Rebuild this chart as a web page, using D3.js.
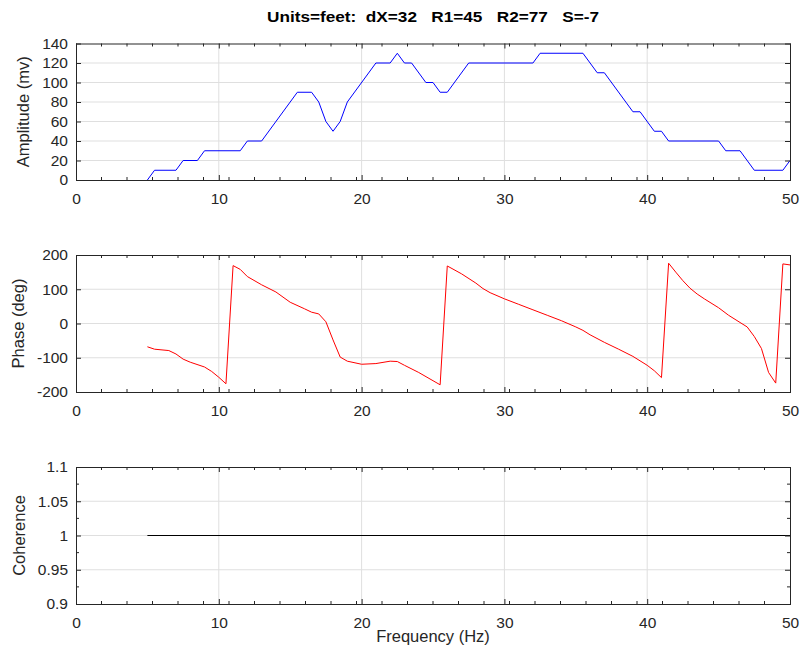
<!DOCTYPE html>
<html>
<head>
<meta charset="utf-8">
<script src="https://cdn.jsdelivr.net/npm/d3@7"></script>
<style>
  html, body { margin: 0; padding: 0; background: #fff; }
  svg { display: block; font-family: "Liberation Sans", Arial, Helvetica, sans-serif; }
</style>
</head>
<body>
<svg id="chart" width="801" height="651"></svg>
<script>
// ---- data ----
const titleText = "Units=feet:  dX=32   R1=45   R2=77   S=-7";
const xTicks = [0, 10, 20, 30, 40, 50];

const ampFreq = [5, 5.5, 7, 7.5, 8.5, 9, 11.5, 12, 13, 15.5, 16.5, 17, 17.5, 18, 18.5, 19, 21, 22, 22.5, 23, 23.5, 24.5, 25, 25.5, 26, 27.5, 32, 32.5, 35.5, 36.5, 37, 39, 39.5, 40.5, 41, 41.5, 45, 45.5, 46.5, 47.5, 49.5, 50];
const ampValues = [0, 10, 10, 20, 20, 30, 30, 40, 40, 90, 90, 80, 60, 50, 60, 80, 120, 120, 130, 120, 120, 100, 100, 90, 90, 120, 120, 130, 130, 110, 110, 70, 70, 50, 50, 40, 40, 30, 30, 10, 10, 20];
const ampTicks = [0, 20, 40, 60, 80, 100, 120, 140];

const phaseFreq = [5, 5.5, 6.5, 7, 7.5, 8, 9, 9.5, 10, 10.5, 11, 11.5, 12, 13, 14, 15, 16, 16.5, 17, 17.5, 18, 18.5, 19, 20, 21, 22, 22.5, 23, 24, 25.5,
  26, 27, 28, 28.5, 29, 30, 31, 32, 33, 34, 35, 35.5, 36, 37, 38, 39, 40, 40.5, 41,
  41.5, 42, 42.5, 43, 43.5, 44, 45, 45.7, 46.5, 47, 47.5, 48, 48.5, 49, 49.5, 50];
const phaseValues = [-68, -75, -79, -89, -104, -113, -127, -140, -157, -176, 169, 158, 137, 113, 92, 62, 43, 33, 28, 5, -48, -98, -110, -119, -117, -110, -111, -122, -143, -179,
  168, 145, 118, 102, 90, 72, 56, 40, 24, 8, -10, -20, -33, -55, -75, -96, -122, -138, -158,
  176, 150, 125, 103, 86, 72, 46, 24, 3, -10, -38, -73, -143, -174, 174, 171];
const phaseTicks = [-200, -100, 0, 100, 200];

const cohFreq = [5, 50];
const cohValues = [1, 1];
const cohTicks = [0.9, 0.95, 1, 1.05, 1.1];
const cohTickLabels = ["0.9", "0.95", "1", "1.05", "1.1"];

// ---- layout ----
const svg = d3.select("#chart");
const axisColor = "#262626";
const gridColor = "#dfdfdf";
const left = 76, right = 790;
const tickFont = 15.5;

const x = d3.scaleLinear().domain([0, 50]).range([left, right]);
const minorX = d3.range(1, 28).map(i => i * 50 / 28);
const plainFmt = d => String(d);

svg.append("text")
  .attr("x", (left + right) / 2).attr("y", 22)
  .attr("text-anchor", "middle")
  .attr("font-weight", "bold").attr("font-size", 15.5)
  .attr("fill", "#000")
  .attr("textLength", 332).attr("lengthAdjust", "spacingAndGlyphs")
  .style("white-space", "pre")
  .text(titleText);

function panel(opts) {
  const { top, bottom, domain, ticks, tickLabels, fx, fy, color, ylabel, ylabelX, minorY } = opts;
  const y = d3.scaleLinear().domain(domain).range([bottom, top]);
  const g = svg.append("g");

  // grid
  g.append("g").selectAll("line").data(xTicks.slice(1, -1)).join("line")
    .attr("x1", d => x(d)).attr("x2", d => x(d))
    .attr("y1", top).attr("y2", bottom)
    .attr("stroke", gridColor).attr("stroke-width", 1);
  g.append("g").selectAll("line").data(ticks.slice(1, -1)).join("line")
    .attr("x1", left).attr("x2", right)
    .attr("y1", d => y(d)).attr("y2", d => y(d))
    .attr("stroke", gridColor).attr("stroke-width", 1);

  // data line
  const pts = fx.map((f, i) => [f, fy[i]]);
  g.append("path")
    .datum(pts)
    .attr("fill", "none")
    .attr("stroke", color)
    .attr("stroke-width", 1)
    .attr("d", d3.line().x(d => x(d[0])).y(d => y(d[1])));

  // axes
  const fmt = tickLabels ? (d, i) => tickLabels[i] : plainFmt;
  const ax = g.append("g").attr("transform", `translate(0,${bottom})`)
    .call(d3.axisBottom(x).tickValues(xTicks).tickSizeInner(-5).tickSizeOuter(0).tickPadding(13).tickFormat(plainFmt));
  const axTop = g.append("g").attr("transform", `translate(0,${top})`)
    .call(d3.axisTop(x).tickValues(xTicks).tickSizeInner(-5).tickSizeOuter(0).tickFormat(""));
  const ay = g.append("g").attr("transform", `translate(${left},0)`)
    .call(d3.axisLeft(y).tickValues(ticks).tickSizeInner(-5).tickSizeOuter(0).tickPadding(8).tickFormat(fmt));
  const ayR = g.append("g").attr("transform", `translate(${right},0)`)
    .call(d3.axisRight(y).tickValues(ticks).tickSizeInner(-5).tickSizeOuter(0).tickFormat(""));
  [ax, axTop, ay, ayR].forEach(a => {
    a.select(".domain").remove();
    a.selectAll("line").attr("stroke", axisColor);
    a.selectAll("text").attr("fill", axisColor).attr("font-size", tickFont)
      .attr("font-family", "Liberation Sans, Arial, sans-serif");
  });

  // minor ticks
  g.append("g").selectAll("line").data(minorX).join("line")
    .attr("x1", d => x(d)).attr("x2", d => x(d))
    .attr("y1", bottom).attr("y2", bottom - 3)
    .attr("stroke", axisColor);
  g.append("g").selectAll("line").data(minorX).join("line")
    .attr("x1", d => x(d)).attr("x2", d => x(d))
    .attr("y1", top).attr("y2", top + 3)
    .attr("stroke", axisColor);
  if (minorY) {
    g.append("g").selectAll("line").data(minorY).join("line")
      .attr("x1", left).attr("x2", left + 3)
      .attr("y1", d => y(d)).attr("y2", d => y(d))
      .attr("stroke", axisColor);
    g.append("g").selectAll("line").data(minorY).join("line")
      .attr("x1", right).attr("x2", right - 3)
      .attr("y1", d => y(d)).attr("y2", d => y(d))
      .attr("stroke", axisColor);
  }

  // frame
  g.append("rect")
    .attr("x", left + 0.5).attr("y", top + 0.5)
    .attr("width", right - left).attr("height", bottom - top)
    .attr("fill", "none").attr("stroke", axisColor).attr("stroke-width", 1);

  // y label
  g.append("text")
    .attr("transform", `translate(${ylabelX},${(top + bottom) / 2}) rotate(-90)`)
    .attr("text-anchor", "middle")
    .attr("font-size", 16.5)
    .attr("fill", axisColor)
    .text(ylabel);
  return y;
}

panel({ top: 43.5, bottom: 180, domain: [0, 140], ticks: ampTicks, fx: ampFreq, fy: ampValues,
  color: "#0000ff", ylabel: "Amplitude (mv)", ylabelX: 29 });
panel({ top: 255, bottom: 392, domain: [-200, 200], ticks: phaseTicks, fx: phaseFreq, fy: phaseValues,
  color: "#ff0000", ylabel: "Phase (deg)", ylabelX: 23.5 });
panel({ top: 467, bottom: 604, domain: [0.9, 1.1], ticks: cohTicks, tickLabels: cohTickLabels, fx: cohFreq, fy: cohValues,
  color: "#000000", ylabel: "Coherence", ylabelX: 25, minorY: [0.925, 0.975, 1.025, 1.075] });

svg.append("text")
  .attr("x", (left + right) / 2).attr("y", 642)
  .attr("text-anchor", "middle")
  .attr("font-size", 16.5)
  .attr("fill", axisColor)
  .text("Frequency (Hz)");
</script>
</body>
</html>
